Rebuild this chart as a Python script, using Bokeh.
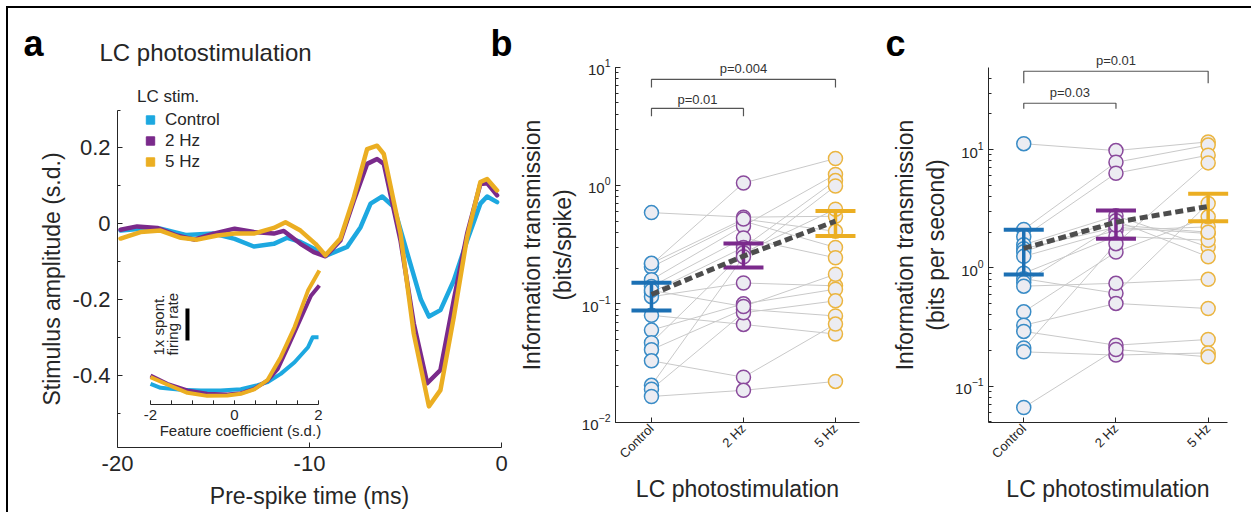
import math
from bokeh.plotting import figure
from bokeh.models import (Range1d, FixedTicker, Label, Legend, LegendItem, Whisker,
                          TeeHead, ColumnDataSource)
from bokeh.layouts import row
from bokeh.embed import file_html
from bokeh.resources import INLINE
from bokeh.core.properties import value

FONT = "Liberation Sans"
TXT = "#262626"
NAN = float("nan")

# ---------------- data: panel a ----------------
conditions = ["Control", "2 Hz", "5 Hz"]
line_colors = ["#1DA8E0", "#7A2A8B", "#EBAE22"]

t_control = [-19.84, -18.8, -17.76, -16.4, -15.0, -13.9, -12.9, -11.86, -11.16, -10.47, -9.08,
             -8.04, -7.34, -6.82, -6.21, -5.6, -4.9, -4.2, -3.78, -3.18, -2.48, -1.79, -1.1, -0.75, -0.23]
amp_control = [-0.018, -0.013, -0.013, -0.03, -0.026, -0.04, -0.06, -0.053, -0.037, -0.048, -0.083,
               -0.061, -0.009, 0.053, 0.072, 0.044, -0.079, -0.2, -0.245, -0.228, -0.149, -0.044, 0.053, 0.072, 0.057]
t_2hz = [-19.84, -18.98, -17.93, -16.9, -16.0, -15.0, -13.9, -12.9, -11.86, -11.34, -10.47, -9.78, -9.17,
         -8.39, -7.69, -7.0, -6.48, -6.13, -5.26, -4.57, -3.87, -3.18, -2.48, -1.79, -1.1, -0.75, -0.23]
amp_2hz = [-0.016, -0.007, -0.011, -0.031, -0.042, -0.026, -0.013, -0.022, -0.026, -0.019, -0.053, -0.075, -0.086,
           -0.044, 0.061, 0.158, 0.171, 0.158, -0.044, -0.263, -0.421, -0.386, -0.2, -0.026, 0.105, 0.107, 0.075]
t_5hz = [-19.84, -18.8, -17.76, -16.7, -15.85, -14.8, -13.9, -12.9, -11.86, -11.25, -10.47, -9.69, -9.17,
         -8.39, -7.69, -7.0, -6.48, -6.13, -5.26, -4.57, -3.78, -3.18, -2.48, -1.79, -1.1, -0.75, -0.23]
amp_5hz = [-0.039, -0.022, -0.018, -0.037, -0.042, -0.031, -0.026, -0.026, -0.011, 0.004, -0.018, -0.053, -0.083,
           -0.039, 0.07, 0.197, 0.206, 0.184, -0.026, -0.29, -0.482, -0.439, -0.245, -0.035, 0.11, 0.118, 0.088]

# inset: firing rate (units of spontaneous rate) vs feature coefficient
feat_control = [-2, -1.76, -1.28, -0.8, -0.33, 0.15, 0.55, 0.79, 1.1, 1.43, 1.75, 1.86, 2.0]
rate_control = [0.646, 0.52, 0.458, 0.4375, 0.4375, 0.479, 0.604, 0.698, 0.958, 1.32, 1.79, 2.1, 2.1]
feat_2hz = [-2, -1.6, -1.12, -0.65, -0.17, 0.15, 0.47, 0.79, 1.03, 1.27, 1.59, 1.82, 2.02]
rate_2hz = [0.906, 0.646, 0.4375, 0.333, 0.3125, 0.354, 0.49, 0.75, 1.11, 1.79, 2.73, 3.4, 3.72]
feat_5hz = [-2, -1.6, -1.12, -0.65, -0.17, 0.15, 0.47, 0.79, 1.1, 1.43, 1.75, 2.02]
rate_5hz = [0.854, 0.625, 0.365, 0.27, 0.28, 0.333, 0.47, 0.77, 1.48, 2.42, 3.56, 4.19]

x_ticks_a = [-20, -10, 0]
y_ticks_a = [-0.4, -0.2, 0, 0.2]
y_minor_a = [-0.5, -0.3, -0.1, 0.1, 0.3]
inset_ticks = [-2, -1.5, -1, -0.5, 0, 0.5, 1, 1.5, 2]
inset_labels = [-2, 0, 2]
scale_bar = [2, 3]  # 1x spontaneous firing rate

# ---------------- data: panel b (bits/spike) ----------------
ctrl_b = [0.59, 0.215, 0.205, 0.16, 0.14, 0.125, 0.115, 0.08, 0.06, 0.047, 0.041, 0.033, 0.0205, 0.019, 0.0165, 0.22, 0.13]
hz2_b = [0.54, 1.05, 0.50, 0.455, 0.36, 0.30, 0.15, 0.067, 0.10, 0.27, 0.09, 0.024, 0.25, 0.084, 0.0186, 0.52, 0.095]
hz5_b = [0.55, 1.69, 0.30, 1.24, 0.245, 1.10, 0.142, 0.0556, 0.133, 0.63, 0.079, 0.0675, 0.99, 0.106, 0.0221, 0.41, 0.178]
mean_b = [0.12, 0.253, 0.50]
lo_b = [0.0877, 0.203, 0.374]
hi_b = [0.151, 0.323, 0.608]
pvals_b = [(0, 1, "p=0.01"), (0, 2, "p=0.004")]

# ---------------- data: panel c (bits per second) ----------------
ctrl_c = [11.2, 2.11, 1.83, 1.57, 1.45, 1.37, 1.25, 0.90, 0.81, 0.75, 0.70, 0.425, 0.327, 0.29, 0.21, 0.195, 0.066]
hz2_c = [9.8, 7.8, 6.3, 2.75, 2.2, 2.5, 2.07, 1.85, 0.61, 2.3, 0.74, 1.36, 0.50, 0.222, 1.6, 0.183, 0.204]
hz5_c = [11.6, 10.9, 8.96, 1.5, 1.95, 1.24, 2.22, 1.71, 3.5, 2.0, 0.80, 2.7, 0.453, 0.248, 7.71, 0.191, 0.177]
mean_c = [1.46, 2.43, 3.3]
lo_c = [0.877, 1.76, 2.48]
hi_c = [2.1, 3.05, 4.23]
pvals_c = [(0, 1, "p=0.03"), (0, 2, "p=0.01")]

edge_colors = ["#3A8CC6", "#8A4A9C", "#EBB540"]
bar_colors = ["#1C70B4", "#7B2A8C", "#EBAE22"]
CIRCLE_FILL = "#ECECF2"
FIG_H = 504


def style(p, tick_size, label_size):
    for ax in p.axis:
        ax.axis_line_color = TXT
        ax.major_tick_line_color = TXT
        ax.minor_tick_line_color = TXT
        ax.major_tick_in = 5
        ax.major_tick_out = 0
        ax.minor_tick_in = 3
        ax.minor_tick_out = 0
        ax.major_label_text_font = FONT
        ax.major_label_text_font_size = tick_size
        ax.major_label_text_color = TXT
        ax.axis_label_text_font = FONT
        ax.axis_label_text_font_size = label_size
        ax.axis_label_text_font_style = "normal"
        ax.axis_label_text_color = TXT
    p.xgrid.visible = False
    p.ygrid.visible = False
    p.outline_line_color = None
    p.background_fill_color = "white"
    p.border_fill_color = "white"


def letter(p, x, y, txt):
    p.add_layout(Label(x=x, y=y, text=txt, text_font=FONT, text_font_size="36px",
                       text_font_style="bold", text_color="black", text_baseline="alphabetic"))


# ================= panel a =================
pa = figure(width=507, height=FIG_H, x_range=Range1d(-25.677, 0.729), y_range=Range1d(-0.762, 0.568),
            output_backend="svg", toolbar_location=None,
            min_border_left=0, min_border_right=0, min_border_top=0, min_border_bottom=0)
pa.extra_x_ranges = {"ix": Range1d(-5.381, 6.690)}
pa.extra_y_ranges = {"iy": Range1d(-3.375, 12.375)}
style(pa, "22px", "23px")
pa.xaxis.fixed_location = -0.59
pa.yaxis.fixed_location = -20
pa.xaxis.bounds = (-20, 0)
pa.yaxis.bounds = (-0.59, 0.3)
pa.xaxis.ticker = FixedTicker(ticks=x_ticks_a)
pa.xaxis.major_label_overrides = {t: str(t) for t in x_ticks_a}
pa.yaxis.ticker = FixedTicker(ticks=y_ticks_a, minor_ticks=y_minor_a)
pa.yaxis.major_label_overrides = {t: ("0" if t == 0 else f"{t:.1f}") for t in y_ticks_a}
pa.xaxis.axis_label = "Pre-spike time (ms)"
pa.yaxis.axis_label = "Stimulus amplitude (s.d.)"
pa.xaxis.major_label_standoff = 9
pa.xaxis.axis_label_standoff = 8
pa.yaxis.major_label_standoff = 7
pa.yaxis.axis_label_standoff = 5

for t, a, c in zip([t_control, t_2hz, t_5hz], [amp_control, amp_2hz, amp_5hz], line_colors):
    pa.line(t, a, line_color=c, line_width=4.5, line_join="round", line_cap="round")

# inset curves
for fx, fr, c in zip([feat_control, feat_2hz, feat_5hz], [rate_control, rate_2hz, rate_5hz], line_colors):
    pa.line(fx, fr, line_color=c, line_width=4, line_join="round",
            x_range_name="ix", y_range_name="iy")
pa.line([inset_ticks[0], inset_ticks[-1]], [0, 0], line_color=TXT, line_width=1,
        x_range_name="ix", y_range_name="iy")
pa.segment(x0=inset_ticks, y0=[0] * len(inset_ticks), x1=inset_ticks, y1=[0.13] * len(inset_ticks),
           line_color=TXT, line_width=1, x_range_name="ix", y_range_name="iy")
pa.text(x=inset_labels, y=[-0.33] * len(inset_labels), text=[str(v) for v in inset_labels],
        text_font=value(FONT), text_font_size="15px", text_color=TXT,
        text_align="center", text_baseline="middle", x_range_name="ix", y_range_name="iy")
pa.text(x=[0.14], y=[-0.82], text=["Feature coefficient (s.d.)"],
        text_font=value(FONT), text_font_size="15px", text_color=TXT,
        text_align="center", text_baseline="middle", x_range_name="ix", y_range_name="iy")
pa.segment(x0=[-1.12], y0=[scale_bar[0]], x1=[-1.12], y1=[scale_bar[1]], line_color="black",
           line_width=4, x_range_name="ix", y_range_name="iy")
pa.text(x=[-1.81, -1.47], y=[1.53, 1.53], text=["1x spont.", "firing rate"], angle=math.pi / 2,
        text_font=value(FONT), text_font_size="15px", text_color=TXT,
        text_align="left", text_baseline="middle", x_range_name="ix", y_range_name="iy")

# legend with square swatches
items = []
for name, c in zip(conditions, line_colors):
    r = pa.scatter(x=[NAN], y=[NAN], marker="square", size=11, fill_color=c, line_color=c)
    items.append(LegendItem(label=name, renderers=[r]))
leg = Legend(items=items, title="LC stim.", location=(129, 340), padding=0, margin=0, spacing=0,
             glyph_width=26, glyph_height=21, label_height=21, label_standoff=2,
             label_text_font=FONT, label_text_font_size="17px", label_text_color=TXT,
             title_text_font=FONT, title_text_font_size="17px", title_text_font_style="normal",
             title_text_color=TXT, title_standoff=2,
             background_fill_alpha=0, border_line_alpha=0)
pa.add_layout(leg)

pa.add_layout(Label(x=-20.94, y=0.452, text="LC photostimulation", text_font=FONT,
                    text_font_size="24px", text_color=TXT, text_baseline="middle"))
letter(pa, -24.9, 0.476, "a")
letter(pa, -0.573, 0.476, "b")


# ================= panels b, c =================
def paired_panel(width, x_rng, y_rng, x_bounds, y_bounds, ctrl, h2, h5,
                 mean, lo, hi, pvals, bracket_y, ylabel):
    p = figure(width=width, height=FIG_H, x_range=Range1d(*x_rng), y_range=Range1d(*y_rng),
               y_axis_type="log", output_backend="svg", toolbar_location=None,
               min_border_left=0, min_border_right=0, min_border_top=0, min_border_bottom=0)
    style(p, "13px", "23px")
    p.yaxis.major_label_text_font_size = "15px"
    p.xaxis.fixed_location = y_bounds[0]
    p.yaxis.fixed_location = x_bounds[0]
    p.xaxis.bounds = x_bounds
    p.yaxis.bounds = y_bounds
    p.xaxis.ticker = FixedTicker(ticks=[1, 2, 3])
    p.xaxis.major_label_overrides = {i + 1: c for i, c in enumerate(conditions)}
    p.xaxis.major_label_orientation = math.pi / 4
    p.xaxis.major_label_standoff = 4
    p.xaxis.axis_label = "LC photostimulation"
    p.xaxis.axis_label_standoff = 6
    p.yaxis.axis_label = ylabel
    p.yaxis.major_label_standoff = 5
    p.yaxis.axis_label_standoff = 3

    cols = [ctrl, h2, h5]
    xs = [[1, 2, 3] for _ in ctrl]
    ys = [[a, b, c] for a, b, c in zip(ctrl, h2, h5)]
    p.multi_line(xs, ys, line_color="#C9C9C9", line_width=1)
    for i, vals in enumerate(cols):
        p.scatter(x=[i + 1] * len(vals), y=vals, marker="circle", size=14,
                  fill_color=CIRCLE_FILL, line_color=edge_colors[i], line_width=1.5)
    for i in range(3):
        src = ColumnDataSource(dict(base=[i + 1], lower=[lo[i]], upper=[hi[i]]))
        w = Whisker(source=src, base="base", lower="lower", upper="upper", dimension="height",
                    line_color=bar_colors[i], line_width=3.5, level="annotation",
                    upper_head=TeeHead(size=40, line_color=bar_colors[i], line_width=4),
                    lower_head=TeeHead(size=40, line_color=bar_colors[i], line_width=4))
        p.add_layout(w)
    p.line([1, 2, 3], mean, line_color="#4D4D4D", line_width=5, line_dash="8 4", level="overlay")

    bxs, bys, tx, ty, tt = [], [], [], [], []
    for (a, b, txt), (yl, ye, yt) in zip(pvals, bracket_y):
        bxs.append([a + 1, a + 1, b + 1, b + 1])
        bys.append([ye, yl, yl, ye])
        tx.append((a + b) / 2 + 1)
        ty.append(yt)
        tt.append(txt)
    p.multi_line(bxs, bys, line_color="#555555", line_width=1.2)
    p.text(x=tx, y=ty, text=tt, text_font=value(FONT), text_font_size="13px",
           text_color="#333333", text_align="center", text_baseline="middle")
    return p


pb = paired_panel(360, (-0.478, 3.435), (0.001726, 31.3), (0.6087, 3.261), (0.01, 10),
                  ctrl_b, hz2_b, hz5_b, mean_b, lo_b, hi_b, pvals_b,
                  [(4.48, 3.84, 5.34), (7.87, 6.74, 9.75)],
                  "Information transmission\n(bits/spike)")

pc = paired_panel(376, (-0.608, 3.470), (0.00855, 155.6), (0.62, 3.206), (0.0496, 49.7),
                  ctrl_c, hz2_c, hz5_c, mean_c, lo_c, hi_c, pvals_c,
                  [(24.6, 22.1, 30.5), (45.9, 36.3, 56.5)],
                  "Information transmission\n(bits per second)")
letter(pc, -0.5, 78.7, "c")

layout = row(pa, pb, pc, margin=(6, 0, 0, 6),
             styles={"border-top": "2px solid black", "border-left": "2px solid black"})

open("out.html", "w").write(file_html(layout, INLINE))
